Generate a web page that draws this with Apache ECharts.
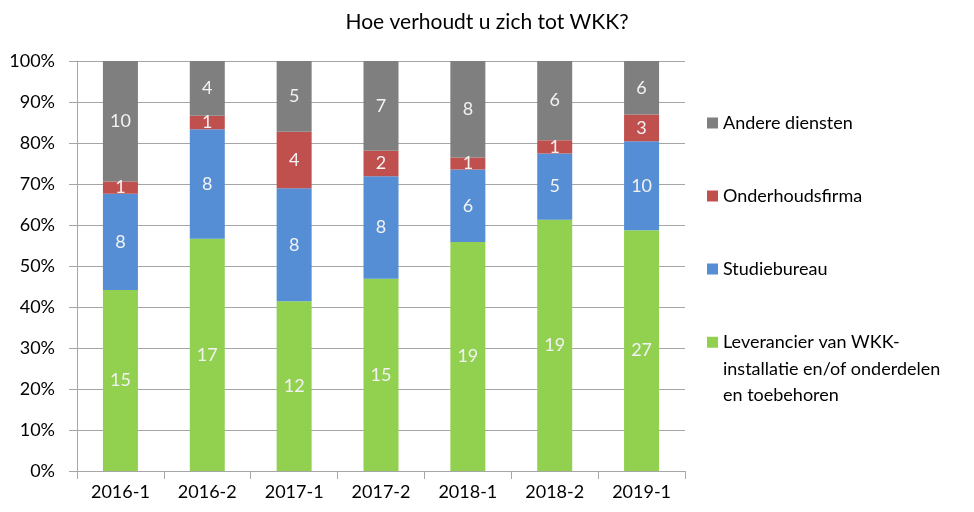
<!DOCTYPE html>
<html>
<head>
<meta charset="utf-8">
<script src="https://cdn.jsdelivr.net/npm/echarts@6/dist/echarts.min.js"></script>
<style>
  html, body { margin: 0; padding: 0; background: #fff; }
  #chart { width: 974px; height: 512px; }
</style>
</head>
<body>
<div id="chart"></div>
<script>
// counts per period, bars are drawn as share of total
const periods = ['2016-1', '2016-2', '2017-1', '2017-2', '2018-1', '2018-2', '2019-1'];
const leverancier = [15, 17, 12, 15, 19, 19, 27];
const studiebureau = [8, 8, 8, 8, 6, 5, 10];
const onderhoud = [1, 1, 4, 2, 1, 1, 3];
const andere = [10, 4, 5, 7, 8, 6, 6];
const yTicks = [0, 10, 20, 30, 40, 50, 60, 70, 80, 90, 100];

const names = ['Leverancier van WKK-installatie en/of onderdelen en toebehoren', 'Studiebureau', 'Onderhoudsfirma', 'Andere diensten'];
const colors = ['#92D050', '#558ED5', '#C0504D', '#7F7F7F'];
const groups = [leverancier, studiebureau, onderhoud, andere];

const totals = periods.map((p, i) => groups.reduce((s, g) => s + g[i], 0));

const font = 'Lato, "Liberation Sans", sans-serif';

var chart = echarts.init(document.getElementById('chart'));

var series = groups.map((g, k) => ({
    name: names[k],
    type: 'bar',
    stack: 'all',
    barWidth: 35,
    itemStyle: { color: colors[k] },
    label: {
        show: true,
        position: 'inside',
        color: '#F2F2F2',
        fontFamily: font,
        fontSize: 18,
        formatter: p => g[p.dataIndex]
    },
    data: g.map((v, i) => v / totals[i] * 100)
}));

var option = {
    animation: false,
    title: {
        text: 'Hoe verhoudt u zich tot WKK?',
        left: 'center',
        top: 7,
        textStyle: { fontFamily: font, fontSize: 21, fontWeight: 'normal', color: '#000' }
    },
    legend: [
        {
            orient: 'vertical',
            left: 707,
            top: 112,
            padding: 0,
            itemGap: 51,
            itemWidth: 11,
            itemHeight: 11,
            icon: 'rect',
            data: [names[3], names[2], names[1]],
            textStyle: { fontFamily: font, fontSize: 18, color: '#000', lineHeight: 22 }
        },
        {
            orient: 'vertical',
            left: 707,
            top: 276,
            padding: 0,
            itemWidth: 11,
            itemHeight: 11,
            icon: 'rect',
            data: [names[0]],
            // two blank lines on top keep the first line level with the icon
            formatter: () => ' \n \nLeverancier van WKK-\ninstallatie en/of onderdelen\nen toebehoren',
            textStyle: { fontFamily: font, fontSize: 18, color: '#000', lineHeight: 26.5 }
        }
    ],
    grid: { left: 77, right: 289, top: 61, bottom: 41 },
    xAxis: {
        type: 'category',
        data: periods,
        axisLine: { lineStyle: { color: '#A6A6A6' } },
        axisTick: { show: true, length: 8, lineStyle: { color: '#A6A6A6' } },
        axisLabel: { fontFamily: font, fontSize: 18, color: '#000', margin: 12 }
    },
    yAxis: {
        type: 'value',
        min: 0,
        max: 100,
        interval: 10,
        axisLine: { show: true, lineStyle: { color: '#A6A6A6' } },
        axisTick: { show: true, length: 8, lineStyle: { color: '#A6A6A6' } },
        splitLine: { lineStyle: { color: '#A6A6A6' } },
        axisLabel: {
            fontFamily: font, fontSize: 18, color: '#000', margin: 22,
            formatter: v => yTicks.indexOf(v) >= 0 ? v + '%' : ''
        }
    },
    series: series
};

option && chart.setOption(option);
</script>
</body>
</html>
